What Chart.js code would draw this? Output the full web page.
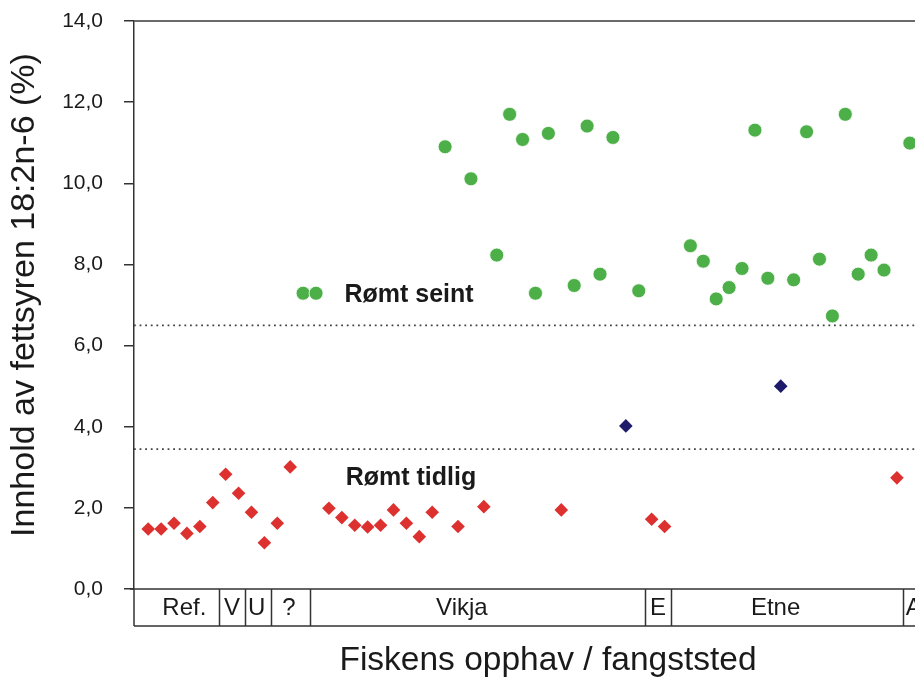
<!DOCTYPE html>
<html>
<head>
<meta charset="utf-8">
<script src="https://cdn.jsdelivr.net/npm/chart.js@4/dist/chart.umd.min.js"></script>
<style>
  html, body { margin: 0; padding: 0; background: #fff; }
  #wrap { width: 915px; height: 680px; }
</style>
</head>
<body>
<div id="wrap"><canvas id="chart" width="915" height="680"></canvas></div>
<script>
// sample number along the x axis, value in %
const seintX = [13, 14, 24, 26, 28, 29, 30, 31, 32, 34, 35, 36, 37, 39, 43, 44, 45, 46, 47, 48, 49, 51, 52, 53, 54, 55, 56, 57, 58, 60];
const seintY = [7.29, 7.29, 10.90, 10.11, 8.23, 11.70, 11.08, 7.29, 11.23, 7.48, 11.41, 7.76, 11.13, 7.35, 8.46, 8.08, 7.15, 7.43, 7.90, 11.31, 7.66, 7.62, 11.27, 8.13, 6.73, 11.70, 7.76, 8.23, 7.86, 10.99];

const tidligX = [1, 2, 3, 4, 5, 6, 7, 8, 9, 10, 11, 12, 15, 16, 17, 18, 19, 20, 21, 22, 23, 25, 27, 33, 40, 41, 59];
const tidligY = [1.48, 1.48, 1.62, 1.37, 1.54, 2.13, 2.83, 2.36, 1.89, 1.14, 1.62, 3.01, 1.99, 1.76, 1.57, 1.53, 1.57, 1.95, 1.62, 1.29, 1.89, 1.54, 2.03, 1.95, 1.72, 1.54, 2.74];

const mellomX = [38, 50];
const mellomY = [4.02, 5.00];

const grenser = [6.5, 3.45]; // dotted limit lines

const kategorier = ["Ref.", "V", "U", "?", "Vikja", "E", "Etne", "A"];
const kategoriStart = [-0.1, 6.5, 8.5, 10.5, 13.5, 39.5, 41.5, 59.5];
const kategoriMidt = [3.8, 7.5, 9.4, 11.9, 25.3, 40.5, 49.6, 60.3];

const gruppeTekst = ["Rømt seint", "Rømt tidlig"];
const gruppeX = [16.2, 16.3];
const gruppeY = [7.25, 2.74];

const yTicks = [0, 2, 4, 6, 8, 10, 12, 14];

const X_MIN = -0.1;
const X_MAX = 60.4;
const FONT = "Arial, 'Liberation Sans', sans-serif";

const toPoints = (xs, ys) => xs.map((x, i) => ({ x: x, y: ys[i] }));

// category strip, top border, group labels and axis titles
const decorations = {
  id: "decorations",
  afterDraw(chart) {
    const ctx = chart.ctx;
    const area = chart.chartArea;
    const xs = chart.scales.x;
    const ys = chart.scales.y;
    const stripBottom = area.bottom + 37;

    ctx.save();
    ctx.strokeStyle = "#6a6a6a";
    ctx.lineWidth = 2;
    ctx.beginPath();
    ctx.moveTo(area.left, area.top);
    ctx.lineTo(area.right, area.top);
    ctx.stroke();

    ctx.strokeStyle = "#333";
    ctx.lineWidth = 1.5;
    ctx.beginPath();
    ctx.moveTo(area.left - 4, area.bottom);
    ctx.lineTo(area.right, area.bottom);
    ctx.moveTo(area.left, stripBottom);
    ctx.lineTo(area.right, stripBottom);
    ctx.moveTo(area.left, area.bottom);
    ctx.lineTo(area.left, stripBottom);
    kategoriStart.slice(1).forEach((v) => {
      const px = Math.round(xs.getPixelForValue(v)) + 0.5;
      ctx.moveTo(px, area.bottom);
      ctx.lineTo(px, stripBottom);
    });
    ctx.stroke();

    ctx.fillStyle = "#1a1a1a";
    ctx.font = "24px " + FONT;
    ctx.textAlign = "center";
    ctx.textBaseline = "middle";
    kategorier.forEach((name, i) => {
      ctx.fillText(name, xs.getPixelForValue(kategoriMidt[i]), (area.bottom + stripBottom) / 2 + 1);
    });

    ctx.font = "bold 25px " + FONT;
    ctx.textAlign = "left";
    gruppeTekst.forEach((t, i) => {
      ctx.fillText(t, xs.getPixelForValue(gruppeX[i]), ys.getPixelForValue(gruppeY[i]));
    });

    ctx.font = "33.5px " + FONT;
    ctx.textAlign = "center";
    ctx.fillText("Fiskens opphav / fangststed", 548, 661);

    ctx.translate(25, 295);
    ctx.rotate(-Math.PI / 2);
    ctx.font = "34px " + FONT;
    ctx.fillText("Innhold av fettsyren 18:2n-6 (%)", 0, 0);
    ctx.restore();
  }
};

const ctx = document.getElementById("chart").getContext("2d");
const chart = new Chart(ctx, {
  type: "scatter",
  data: {
    datasets: [
      {
        label: "Rømt seint",
        data: toPoints(seintX, seintY),
        pointStyle: "circle",
        pointRadius: 7,
        backgroundColor: "#4caf47",
        borderColor: "#ffffff",
        borderWidth: 0.8,
        clip: false,
      },
      {
        label: "Rømt tidlig",
        data: toPoints(tidligX, tidligY),
        pointStyle: "rectRot",
        pointRadius: 6.8,
        backgroundColor: "#dd3130",
        borderColor: "#dd3130",
        borderWidth: 0,
        clip: false,
      },
      {
        label: "Mellom",
        data: toPoints(mellomX, mellomY),
        pointStyle: "rectRot",
        pointRadius: 6.8,
        backgroundColor: "#1e1b6b",
        borderColor: "#1e1b6b",
        borderWidth: 0,
        clip: false,
      },
      ...grenser.map((g) => ({
        type: "line",
        label: "grense " + g,
        data: [{ x: X_MIN, y: g }, { x: X_MAX, y: g }],
        borderColor: "#444",
        borderWidth: 1.8,
        borderDash: [1.8, 3.8],
        pointRadius: 0,
        fill: false,
      })),
    ],
  },
  options: {
    responsive: false,
    animation: false,
    layout: { autoPadding: false, padding: { top: 21, right: 0, bottom: 91, left: 0 } },
    plugins: {
      legend: { display: false },
      tooltip: { enabled: false },
    },
    scales: {
      x: {
        type: "linear",
        display: false,
        min: X_MIN,
        max: X_MAX,
      },
      y: {
        min: 0,
        max: 14,
        afterFit: (scale) => {
          scale.width = 134;
          scale.paddingTop = 0;
          scale.paddingBottom = 0;
        },
        afterBuildTicks: (scale) => { scale.ticks = yTicks.map((v) => ({ value: v })); },
        border: { display: true, color: "#333", width: 1.5 },
        grid: {
          drawOnChartArea: false,
          drawTicks: true,
          tickLength: 10,
          color: "#333",
          lineWidth: 1.5,
        },
        ticks: {
          padding: 21,
          color: "#1a1a1a",
          font: { family: FONT, size: 21 },
          callback: (v) => v.toFixed(1).replace(".", ","),
        },
      },
    },
  },
  plugins: [decorations],
});
</script>
</body>
</html>
